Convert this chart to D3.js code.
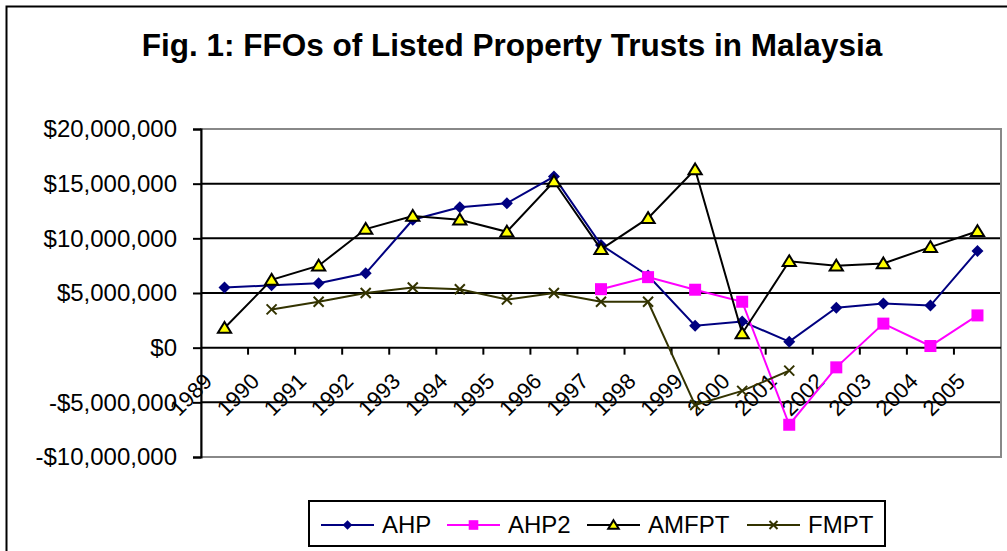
<!DOCTYPE html>
<html>
<head>
<meta charset="utf-8">
<script src="https://cdn.jsdelivr.net/npm/d3@7"></script>
<style>
    body { margin: 0; background: #fff; }
    text { font-family: "Liberation Sans", Arial, sans-serif; }
</style>
</head>
<body>
<div id="chart"></div>
<script>
// chart values
var years = ["1989", "1990", "1991", "1992", "1993", "1994", "1995", "1996", "1997",
    "1998", "1999", "2000", "2001", "2002", "2003", "2004", "2005"];

var ahp = [5500000, 5700000, 5900000, 6800000, 11700000, 12850000, 13200000, 15650000, 9400000,
    6600000, 2000000, 2400000, 550000, 3650000, 4050000, 3850000, 8850000];

var ahp2 = [null, null, null, null, null, null, null, null, 5350000,
    6450000, 5300000, 4200000, -7050000, -1800000, 2200000, 150000, 2950000];

var amfpt = [1800000, 6200000, 7500000, 10850000, 12050000, 11700000, 10600000, 15200000, 9000000,
    11850000, 16300000, 1300000, 7900000, 7500000, 7700000, 9200000, 10650000];

var fmpt = [null, 3500000, 4200000, 5000000, 5500000, 5350000, 4400000, 5000000, 4200000,
    4200000, -5250000, -3950000, -2100000, null, null, null, null];

var yTicks = [-10000000, -5000000, 0, 5000000, 10000000, 15000000, 20000000];

var seriesNames = ["AHP", "AHP2", "AMFPT", "FMPT"];

var width = 1007, height = 551;
var plotLeft = 201, plotRight = 1001, plotTop = 129, plotBottom = 457;

var svg = d3.select("#chart").append("svg")
    .attr("width", width)
    .attr("height", height);

// outer chart frame (runs off the right and bottom edge)
svg.append("rect")
    .attr("x", 6.5).attr("y", 6.5)
    .attr("width", 1100).attr("height", 600)
    .attr("fill", "none")
    .attr("stroke", "#000")
    .attr("stroke-width", 2);

svg.append("text")
    .attr("x", 512)
    .attr("y", 56)
    .attr("text-anchor", "middle")
    .attr("font-size", "31.5px")
    .attr("font-weight", "bold")
    .text("Fig. 1: FFOs of Listed Property Trusts in Malaysia");

var x = d3.scaleBand().domain(years).range([plotLeft, plotRight]).padding(0);
var y = d3.scaleLinear().domain([-10000000, 20000000]).range([plotBottom, plotTop]);
var cx = function(i) { return x(years[i]) + x.bandwidth() / 2; };

var money = function(v) {
    var s = "$" + d3.format(",")(Math.abs(v));
    return v < 0 ? "-" + s : s;
};

// gridlines
svg.append("g").selectAll("line")
    .data(yTicks.filter(function(d) { return d != 0 && d != 20000000 && d != -10000000; }))
    .enter().append("line")
    .attr("x1", plotLeft).attr("x2", plotRight)
    .attr("y1", function(d) { return y(d); })
    .attr("y2", function(d) { return y(d); })
    .attr("stroke", "#000")
    .attr("stroke-width", 2);

// plot area border
svg.append("rect")
    .attr("x", plotLeft).attr("y", plotTop)
    .attr("width", plotRight - plotLeft).attr("height", plotBottom - plotTop)
    .attr("fill", "none")
    .attr("stroke", "#888")
    .attr("stroke-width", 2);

// y axis
var yAxis = svg.append("g")
    .attr("transform", "translate(" + plotLeft + ",0)")
    .call(d3.axisLeft(y).tickValues(yTicks).tickFormat(money).tickSize(8).tickPadding(16));
yAxis.select(".domain").attr("stroke", "#000").attr("stroke-width", 2);
yAxis.selectAll(".tick line").attr("stroke", "#000").attr("stroke-width", 2);
yAxis.selectAll(".tick text")
    .attr("font-size", "24px")
    .attr("fill", "#000")
    .style("font-family", "'Liberation Sans', Arial, sans-serif");

// x axis at zero with ticks between categories
svg.append("line")
    .attr("x1", plotLeft).attr("x2", plotRight)
    .attr("y1", y(0)).attr("y2", y(0))
    .attr("stroke", "#000")
    .attr("stroke-width", 2);

svg.append("g").selectAll("line")
    .data(years.slice(1))
    .enter().append("line")
    .attr("x1", function(d) { return x(d); })
    .attr("x2", function(d) { return x(d); })
    .attr("y1", y(0)).attr("y2", y(0) + 7)
    .attr("stroke", "#000")
    .attr("stroke-width", 2);

svg.append("g").selectAll("text")
    .data(years)
    .enter().append("text")
    .attr("transform", function(d, i) { return "translate(" + (cx(i) - 11) + "," + (y(0) + 35) + ") rotate(-45)"; })
    .attr("text-anchor", "end")
    .attr("font-size", "22px")
    .text(function(d) { return d; });

// series
var series = [
    { name: "AHP", values: ahp, color: "#000080", marker: "diamond" },
    { name: "AHP2", values: ahp2, color: "#ff00ff", marker: "square" },
    { name: "AMFPT", values: amfpt, color: "#000000", marker: "triangle" },
    { name: "FMPT", values: fmpt, color: "#333300", marker: "cross" }
];

var drawMarker = function(g, s, px, py, k) {
    k = k || 1;
    if (s.marker == "diamond") {
        var r = 6 * k;
        g.append("path")
            .attr("d", "M" + px + "," + (py - r) + "L" + (px + r) + "," + py + "L" + px + "," + (py + r) + "L" + (px - r) + "," + py + "Z")
            .attr("fill", s.color);
    } else if (s.marker == "square") {
        g.append("rect")
            .attr("x", px - 6 * k).attr("y", py - 6 * k)
            .attr("width", 12 * k).attr("height", 12 * k)
            .attr("fill", s.color);
    } else if (s.marker == "triangle") {
        var h = 6 * k;
        g.append("path")
            .attr("d", "M" + px + "," + (py - h) + "L" + (px + h * 1.1) + "," + (py + h * 0.8) + "L" + (px - h * 1.1) + "," + (py + h * 0.8) + "Z")
            .attr("fill", "#ffff00")
            .attr("stroke", "#000")
            .attr("stroke-width", 2);
    } else {
        var c = 5 * k;
        g.append("path")
            .attr("d", "M" + (px - c) + "," + (py - c) + "L" + (px + c) + "," + (py + c) + "M" + (px - c) + "," + (py + c) + "L" + (px + c) + "," + (py - c))
            .attr("stroke", s.color)
            .attr("stroke-width", 2);
    }
};

var line = d3.line()
    .defined(function(d) { return d != null; })
    .x(function(d, i) { return cx(i); })
    .y(function(d) { return y(d); });

series.forEach(function(s) {
    var g = svg.append("g");
    g.append("path")
        .attr("d", line(s.values))
        .attr("fill", "none")
        .attr("stroke", s.color)
        .attr("stroke-width", 2);
    s.values.forEach(function(v, i) {
        if (v != null) drawMarker(g, s, cx(i), y(v), 1);
    });
});

// legend
var legend = svg.append("g");
legend.append("rect")
    .attr("x", 309).attr("y", 501)
    .attr("width", 576).attr("height", 45)
    .attr("fill", "#fff")
    .attr("stroke", "#000")
    .attr("stroke-width", 2);

var legendX = [321, 447, 587, 747];
series.forEach(function(s, i) {
    var lx = legendX[i];
    legend.append("line")
        .attr("x1", lx).attr("x2", lx + 53)
        .attr("y1", 525).attr("y2", 525)
        .attr("stroke", s.color)
        .attr("stroke-width", 2);
    drawMarker(legend, s, lx + 26.5, 525, 0.8);
    legend.append("text")
        .attr("x", lx + 61)
        .attr("y", 525)
        .attr("dy", "0.35em")
        .attr("font-size", "24px")
        .text(s.name);
});
</script>
</body>
</html>
